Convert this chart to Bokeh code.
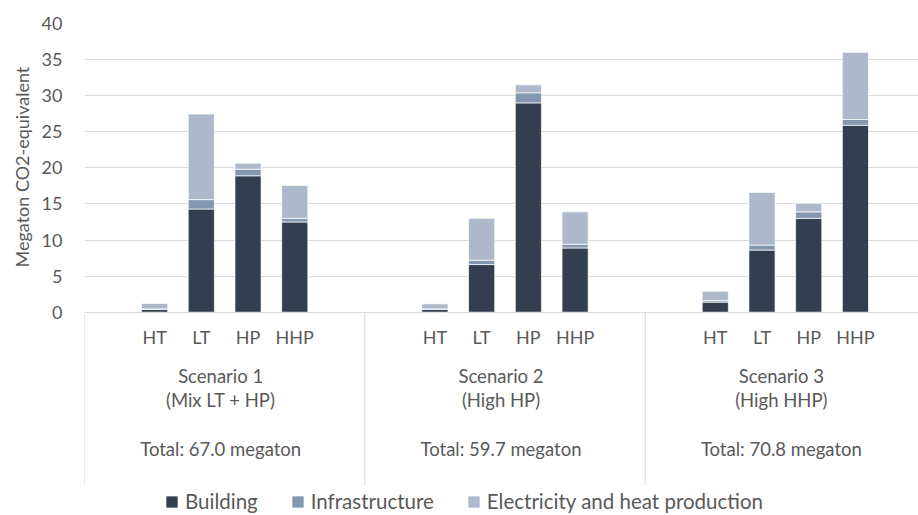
from bokeh.plotting import figure
from bokeh.models import ColumnDataSource, FixedTicker, Legend, LegendItem, Title
from bokeh.core.properties import value
from bokeh.embed import file_html
from bokeh.resources import INLINE

# ---- data ----
scenarios = ["Scenario 1", "Scenario 2", "Scenario 3"]
subtitles = ["(Mix LT + HP)", "(High HP)", "(High HHP)"]
totals = [67.0, 59.7, 70.8]
technologies = ["HT", "LT", "HP", "HHP"]
series = ["Building", "Infrastructure", "Electricity and heat production"]
building = [0.4, 14.3, 18.9, 12.5, 0.4, 6.6, 29.0, 8.9, 1.4, 8.6, 13.0, 25.9]
infrastructure = [0.05, 1.3, 0.9, 0.5, 0.05, 0.6, 1.4, 0.5, 0.2, 0.7, 0.9, 0.8]
electricity = [0.75, 11.85, 0.85, 4.55, 0.7, 5.8, 1.1, 4.5, 1.3, 7.3, 1.2, 9.3]
y_ticks = [0, 5, 10, 15, 20, 25, 30, 35, 40]

# ---- style ----
colors = ["#333F50", "#8497B0", "#ADB9CA"]
FONT = "Lato"
TXT = "#595959"
GRID = "#D9D9D9"
SLOTS = 6          # slots per scenario group (first and last empty)
BAR_W = 0.56
LBL = "18.5px"

xs = [g * SLOTS + 1.5 + t for g in range(len(scenarios)) for t in range(len(technologies))]
tech_labels = technologies * len(scenarios)
src = ColumnDataSource(dict(x=xs, tech=tech_labels,
                            **{series[0]: building, series[1]: infrastructure, series[2]: electricity}))

p = figure(width=918, height=515, x_range=(0, 17.85), y_range=(-28.17, 40),
           output_backend="svg", toolbar_location=None,
           min_border_left=84, min_border_right=0, min_border_top=23, min_border_bottom=0)
p.outline_line_color = None
p.background_fill_color = "white"
p.border_fill_color = "white"
p.xaxis.visible = False
p.xgrid.visible = False
p.ygrid.ticker = FixedTicker(ticks=y_ticks)
p.ygrid.grid_line_color = GRID
p.ygrid.grid_line_width = 1
p.yaxis.ticker = FixedTicker(ticks=y_ticks)
p.yaxis.axis_line_color = None
p.yaxis.major_tick_line_color = None
p.yaxis.minor_tick_line_color = None
p.yaxis.major_tick_out = 0
p.yaxis.major_tick_in = 0
p.yaxis.major_label_standoff = 22
p.yaxis.major_label_text_font = FONT
p.yaxis.major_label_text_font_size = "18px"
p.yaxis.major_label_text_color = TXT

renderers = p.vbar_stack(series, x="x", width=BAR_W, source=src, color=colors,
                         line_color="white", line_width=0.7)

# group dividers below the axis
div_x = [g * SLOTS for g in range(len(scenarios))]
p.segment(x0=div_x, y0=[0] * len(div_x), x1=div_x, y1=[-24.0] * len(div_x),
          line_color=GRID, line_width=1)

# category labels
p.text(x=xs, y=[-3.46] * len(xs), text=tech_labels, text_font=value(FONT),
       text_font_size="18px", text_color=TXT, text_align="center", text_baseline="middle")
gx = [g * SLOTS + SLOTS / 2 for g in range(len(scenarios))]
for yy, texts in [(-8.91, scenarios), (-12.23, subtitles),
                  (-19.02, [f"Total: {t:.1f} megaton" for t in totals])]:
    p.text(x=gx, y=[yy] * len(gx), text=texts, text_font=value(FONT), x_offset=-4,
           text_font_size=LBL, text_color=TXT, text_align="center", text_baseline="middle")

# y axis title (centred on the 0-40 value range)
p.add_layout(Title(text="Megaton CO2-equivalent", align="left", offset=248,
                   text_font=FONT, text_font_size="18px", text_font_style="normal",
                   text_color=TXT, standoff=11), "left")

legend = Legend(items=[LegendItem(label=s, renderers=[r]) for s, r in zip(series, renderers)],
                orientation="horizontal", location=(80, 2), padding=0, margin=0,
                spacing=32, glyph_width=15, glyph_height=15, label_standoff=6,
                label_text_font=FONT, label_text_font_size="20.5px", label_text_color=TXT,
                background_fill_alpha=0, border_line_color=None)
p.add_layout(legend)

open("out.html", "w").write(file_html(p, INLINE))
